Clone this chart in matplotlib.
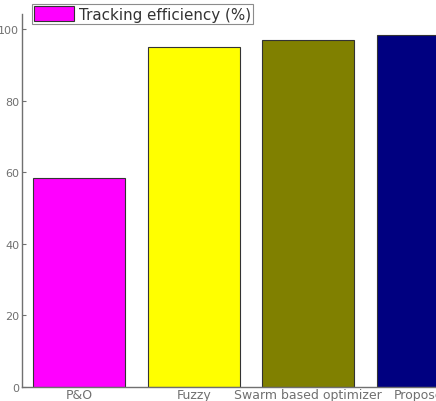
import matplotlib
matplotlib.use('Agg')
import matplotlib.pyplot as plt

# data
methods = ['P&O', 'Fuzzy', 'Swarm based optimizer', 'Proposed']
efficiency = [58.5, 95.2, 96.9, 98.3]
barcolours = ['#ff00ff', '#ffff00', '#808000', '#000080']
yticks = [0, 20, 40, 60, 80, 100]

grey = '#707070'
plt.rcParams['font.family'] = ['DejaVu Sans']

fig = plt.figure(figsize=(4.36, 4.02), dpi=100)
# axes run past the right edge, the reference is cropped there
ax = fig.add_axes([22/436, 14/402, 458/436, 373/402])

xpos = list(range(1, len(methods)+1))
bars = ax.bar(xpos, efficiency, width=0.8, color=barcolours,
              edgecolor='#333333', linewidth=0.8)
bars[0].set_label('Tracking efficiency (%)')

ax.set_xlim(0.5, 4.5)
ax.set_ylim(0, 104.3)
ax.set_yticks(yticks)
ax.set_xticks(xpos)
ax.set_xticklabels(methods)

for s in ['top', 'right']:
    ax.spines[s].set_visible(False)
for s in ['left', 'bottom']:
    ax.spines[s].set_color(grey)
    ax.spines[s].set_linewidth(1.0)

ax.tick_params(axis='y', direction='in', length=3, pad=2, colors=grey, labelsize=8)
ax.tick_params(axis='x', length=0, pad=1, colors=grey, labelsize=9)

leg = ax.legend(loc='upper left', bbox_to_anchor=(10/458, 1.027), fontsize=10.9,
                frameon=True, fancybox=False, borderpad=0.15, handlelength=2.65,
                handleheight=1.1, handletextpad=0.3, borderaxespad=0)
leg.get_frame().set_edgecolor(grey)
leg.get_frame().set_linewidth(0.8)
for t in leg.get_texts():
    t.set_color('#333333')

fig.savefig('out.png', dpi=100)
